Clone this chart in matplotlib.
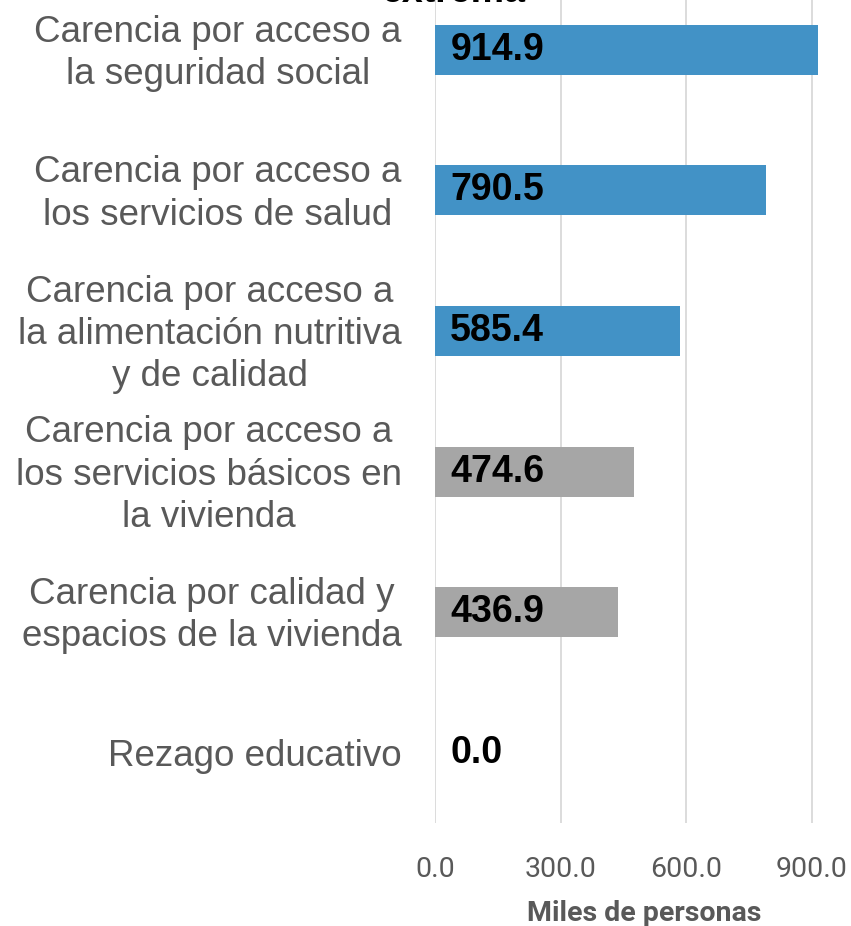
import matplotlib.pyplot as plt
from matplotlib.ticker import FormatStrFormatter

# data
categories = [
    "Carencia por acceso a\nla seguridad social",
    "Carencia por acceso a\nlos servicios de salud",
    "Carencia por acceso a\nla alimentación nutritiva\ny de calidad",
    "Carencia por acceso a\nlos servicios básicos en\nla vivienda",
    "Carencia por calidad y\nespacios de la vivienda",
    "Rezago educativo",
]
values = [914.9, 790.5, 585.4, 474.6, 436.9, 0.0]
bar_colors = ["#4292C6", "#4292C6", "#4292C6", "#A6A6A6", "#A6A6A6", "#A6A6A6"]
x_ticks = [0, 300, 600, 900]

GRAY_TEXT = "#595959"

fig = plt.figure(figsize=(8.51, 9.26), dpi=100)
ax = fig.add_axes([0.5112, 0.1112, 0.492, 0.911])

pos = list(range(len(categories)))
ax.barh(pos, values, height=0.356, color=bar_colors, zorder=3)
ax.set_ylim(5.5, -0.5)
ax.set_xlim(0, 1000)

# value labels sit just right of the zero line
for y, v in zip(pos, values):
    ax.annotate(f"{v:.1f}", xy=(0, y), xytext=(11, 0), textcoords="offset points",
                ha="left", va="center", fontsize=27, fontweight="bold",
                family="Liberation Sans", color="black", zorder=4)

# category labels drawn by hand so multi-line ones centre on the bar
ax.set_yticks(pos)
ax.set_yticklabels([])
ax.tick_params(axis="y", length=0)
for y, cat in zip(pos, categories):
    ax.annotate(cat, xy=(0, y), xycoords=("axes fraction", "data"),
                xytext=(-24, -2.6), textcoords="offset points",
                ha="right", va="center", multialignment="center", linespacing=1.27,
                fontsize=26.5, family="Liberation Sans", color=GRAY_TEXT,
                annotation_clip=False)

ax.set_xticks(x_ticks)
ax.xaxis.set_major_formatter(FormatStrFormatter("%.1f"))
ax.tick_params(axis="x", length=0, pad=24, labelsize=20.5, labelcolor=GRAY_TEXT)
for lbl in ax.get_xticklabels():
    lbl.set_family("Roboto")

ax.set_xlabel("Miles de personas", fontsize=20.5, fontweight="bold", family="Roboto",
              color=GRAY_TEXT, labelpad=12)

ax.grid(axis="x", color="#D9D9D9", linewidth=1.3, zorder=0)
ax.grid(axis="y", visible=False)
for s in ax.spines.values():
    s.set_visible(False)

# title is cut off at the top of the image, only its last word peeks in
fig.text(0.533, 1 - 2 / 926, "extrema", ha="center", va="baseline",
         fontsize=27, fontweight="bold", family="Liberation Sans", color="black")

fig.savefig("out.png", dpi=100)
